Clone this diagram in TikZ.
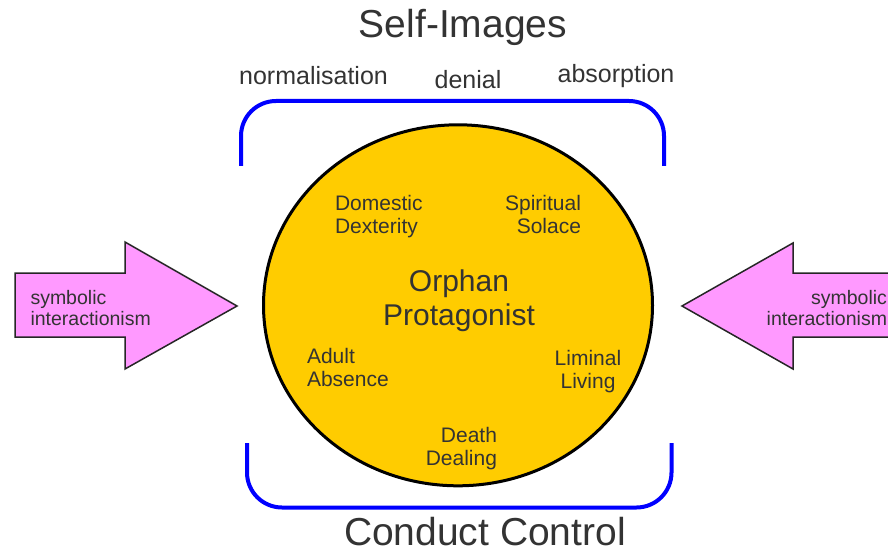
\documentclass[tikz,border=0pt]{standalone}
\usepackage{fontspec}
\setmainfont{Liberation Sans}
\usetikzlibrary{shapes.geometric}
\usetikzlibrary{positioning}
\definecolor{orphangold}{HTML}{FFCC00}
\definecolor{theorypink}{HTML}{FF99FF}
\definecolor{inkgray}{HTML}{333333}

\begin{document}
\begin{tikzpicture}[x=1pt, y=-1pt,
		every node/.style={text=inkgray, inner sep=0pt, outer sep=0pt},
		heading/.style={font=\fontsize{39}{44}\selectfont, anchor=base},
		phase/.style={font=\fontsize{25}{30}\selectfont, anchor=base},
		facet/.style={font=\fontsize{21}{23.5}\selectfont},
		theory/.style={font=\fontsize{19.5}{21.3}\selectfont},
		bracket/.style={draw=blue, line width=4pt, rounded corners=35pt},
		arrowshape/.style={draw=black!85, line width=1.5pt, fill=theorypink, line join=miter}]
		\useasboundingbox (0,0) rectangle (888,553);
		\clip (0,0) rectangle (888,553);

		% frames round the hub
		\draw[bracket] (241,166) -- (241,101) -- (664,101) -- (664,166);
		\draw[bracket] (247,443) -- (247,507.5) -- (671.5,507.5) -- (671.5,443);

		% arrows from both sides
		\filldraw[arrowshape] (15,273) -- (125,273) -- (125,242) -- (237,306) -- (125,369) -- (125,337) -- (15,337) -- cycle;
		\filldraw[arrowshape] (900,273) -- (793,273) -- (793,243) -- (682,306) -- (793,369) -- (793,337) -- (900,337);

		\node[ellipse, draw=black, line width=3pt, fill=orphangold, minimum width=389pt, minimum height=361pt] (core) at (458,305.3) {};

		\path
		(459,270) node[font=\fontsize{30}{33.5}\selectfont, align=center, anchor=north] (hub) {Orphan\\Protagonist}
		(335,195) node[facet, align=left, anchor=north west] (domestic) {Domestic\\Dexterity}
		(581,195) node[facet, align=right, anchor=north east] (spiritual) {Spiritual\\Solace}
		(307,348) node[facet, align=left, anchor=north west] (adult) {Adult\\Absence}
		(588,350) node[facet, align=center, anchor=north] (liminal) {Liminal\\Living}
		(497,427) node[facet, align=right, anchor=north east] (death) {Death\\Dealing};

		\path
		(463,37.3) node[heading] (selfimages) {Self-Images}
		(485,545) node[heading] (conduct) {Conduct Control}
		(313.5,85) node[phase] (normalisation) {normalisation}
		(468,89) node[phase] (denial) {denial}
		(616,83) node[phase] (absorption) {absorption};

		\path
		(30.5,290) node[theory, align=left, anchor=north west] (symleft) {symbolic\\interactionism}
		(887,290) node[theory, align=right, anchor=north east] (symright) {symbolic\\interactionism};
	\end{tikzpicture}
\end{document}
